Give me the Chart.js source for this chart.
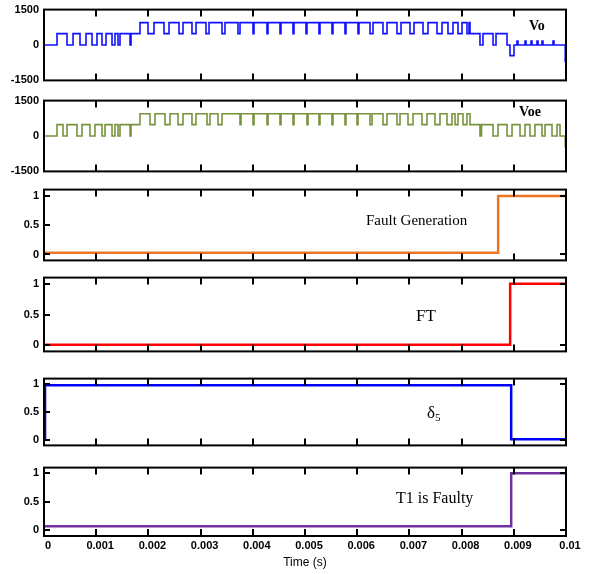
<!DOCTYPE html>
<html lang="en">
<head>
<meta charset="UTF-8">
<title>Fault detection waveforms</title>
<script src="https://cdn.jsdelivr.net/npm/chart.js"></script>
<style>
  body { margin: 0; background: #fff; }
  #wrap { position: relative; width: 590px; height: 574px; overflow: hidden; background: #fff; }
  .box { position: absolute; left: 0; width: 590px; }
  .note {
    position: absolute;
    font-family: "Liberation Serif", "Times New Roman", serif;
    color: #000;
    white-space: nowrap;
    line-height: 1;
  }
  .note sub { font-size: 0.65em; vertical-align: -0.25em; line-height: 0; }
</style>
</head>
<body>
<div id="wrap">
  <div class="box" id="bVo"><canvas id="cVo"></canvas></div>
  <div class="box" id="bVoe"><canvas id="cVoe"></canvas></div>
  <div class="box" id="bFault"><canvas id="cFault"></canvas></div>
  <div class="box" id="bFT"><canvas id="cFT"></canvas></div>
  <div class="box" id="bD5"><canvas id="cD5"></canvas></div>
  <div class="box" id="bT1"><canvas id="cT1"></canvas></div>

  <div class="note" style="left:529px; top:19px; font-size:14px; font-weight:bold;">Vo</div>
  <div class="note" style="left:519px; top:105px; font-size:14px; font-weight:bold;">Voe</div>
  <div class="note" style="left:366px; top:213px; font-size:15px;">Fault Generation</div>
  <div class="note" style="left:416px; top:307px; font-size:17px;">FT</div>
  <div class="note" style="left:427px; top:404px; font-size:17px;">δ<sub>5</sub></div>
  <div class="note" style="left:396px; top:490px; font-size:16px;">T1 is Faulty</div>
</div>
<script>
  // x axis (time, s)
  const xTicks = [0, 0.001, 0.002, 0.003, 0.004, 0.005, 0.006, 0.007, 0.008, 0.009, 0.01];
  const xTickLabels = ['0', '0.001', '0.002', '0.003', '0.004', '0.005', '0.006', '0.007', '0.008', '0.009', '0.01'];
  const voltTicks = [-1500, 0, 1500];
  const logicTicks = [0, 0.5, 1];

  // Vo : step changes (time, value)
  const voTime = [
    0, 0.000249, 0.000441, 0.000556, 0.000690, 0.000805, 0.000920, 0.001015, 0.001111, 0.001188,
    0.001303, 0.001360, 0.001418, 0.001456, 0.001648, 0.001667,
    0.001839, 0.001992, 0.002107, 0.002299, 0.002395, 0.002586, 0.002663, 0.002835, 0.002912,
    0.003103, 0.003161, 0.003410, 0.003467, 0.003716, 0.003755, 0.004004, 0.004023, 0.004272, 0.004291,
    0.004521, 0.004540, 0.004770, 0.004789, 0.005019, 0.005038, 0.005268, 0.005287, 0.005517, 0.005536,
    0.005766, 0.005785, 0.006015, 0.006034, 0.006245, 0.006303, 0.006494, 0.006571, 0.006762, 0.006839,
    0.007011, 0.007088, 0.007261, 0.007356, 0.007529, 0.007625, 0.007739, 0.007835, 0.007931, 0.008008,
    0.008103, 0.008142, 0.008161,
    0.008352, 0.008410, 0.008602, 0.008659, 0.008870, 0.008927, 0.009004,
    0.009061, 0.009080, 0.009215, 0.009234, 0.009330, 0.009349, 0.009444, 0.009464,
    0.009540, 0.009559, 0.009751, 0.009770, 0.009985, 0.010000
  ];
  const voVal = [
    0, 480, 0, 480, 0, 480, 0, 480, 0, 480,
    0, 480, 0, 480, 0, 480,
    950, 480, 950, 480, 950, 480, 950, 480, 950,
    480, 950, 480, 950, 480, 950, 480, 950, 480, 950,
    480, 950, 480, 950, 480, 950, 480, 950, 480, 950,
    480, 950, 480, 950, 480, 950, 480, 950, 480, 950,
    480, 950, 480, 950, 480, 950, 480, 950, 480, 950,
    480, 950, 480,
    0, 480, 0, 480, 0, -450, 0,
    170, 0, 170, 0, 170, 0, 170, 0,
    170, 0, 170, 0, -700, -700
  ];

  // Voe : step changes (time, value)
  const voeTime = [
    0, 0.000249, 0.000364, 0.000441, 0.000632, 0.000728, 0.000881, 0.000977, 0.001111, 0.001169,
    0.001303, 0.001360, 0.001418, 0.001456, 0.001648, 0.001667,
    0.001839, 0.002031, 0.002126, 0.002318, 0.002414, 0.002567, 0.002663, 0.002835, 0.002912,
    0.003123, 0.003180, 0.003333, 0.003410, 0.003755, 0.003774, 0.004004, 0.004023, 0.004272, 0.004291,
    0.004521, 0.004540, 0.004770, 0.004789, 0.005038, 0.005057, 0.005268, 0.005287, 0.005517, 0.005536,
    0.005766, 0.005785, 0.005996, 0.006015, 0.006245, 0.006284, 0.006494, 0.006571, 0.006762, 0.006820,
    0.006973, 0.007069, 0.007241, 0.007337, 0.007490, 0.007586, 0.007720, 0.007816, 0.007874, 0.007931,
    0.008027, 0.008103, 0.008161,
    0.008352, 0.008381, 0.008602, 0.008697, 0.008870, 0.008966, 0.009119, 0.009215,
    0.009310, 0.009406, 0.009540, 0.009598, 0.009732, 0.009828, 0.009885, 0.009985, 0.010000
  ];
  const voeVal = [
    0, 480, 0, 480, 0, 480, 0, 480, 0, 480,
    0, 480, 0, 480, 0, 480,
    940, 480, 940, 480, 940, 480, 940, 480, 940,
    480, 940, 480, 940, 480, 940, 480, 940, 480, 940,
    480, 940, 480, 940, 480, 940, 480, 940, 480, 940,
    480, 940, 480, 940, 480, 940, 480, 940, 480, 940,
    480, 940, 480, 940, 480, 940, 480, 940, 480, 940,
    480, 940, 480,
    0, 480, 0, 480, 0, 480, 0, 480,
    0, 480, 0, 480, 0, 480, 0, -450, -450
  ];

  // logic signals (last point closes the trace at 0.01 s)
  const faultTime = [0, 0.0087, 0.01];
  const faultVal = [0.03, 0.99, 0.99];
  const ftTime = [0, 0.00893, 0.01];
  const ftVal = [0.01, 1.0, 1.0];
  const d5Time = [0, 0.00002, 0.00895, 0.01];
  const d5Val = [0, 0.98, 0.01, 0.01];
  const t1Time = [0, 0.00895, 0.01];
  const t1Val = [0.07, 1.0, 1.0];

  Chart.defaults.font.family = '"Liberation Sans", Arial, sans-serif';
  Chart.defaults.color = '#000';

  // box round the plot with inward ticks
  const framePlugin = {
    id: 'frame',
    afterDatasetsDraw(chart, args, opts) {
      const { ctx, chartArea: a, scales } = chart;
      ctx.save();
      ctx.strokeStyle = '#000';
      ctx.lineWidth = 2;
      ctx.strokeRect(a.left, a.top, a.right - a.left, a.bottom - a.top);
      ctx.beginPath();
      xTicks.slice(1, -1).forEach(v => {
        const x = Math.round(scales.x.getPixelForValue(v));
        ctx.moveTo(x, a.top);
        ctx.lineTo(x, a.top + 7);
        ctx.moveTo(x, a.bottom);
        ctx.lineTo(x, a.bottom - 7);
      });
      if (opts.yMarks) {
        logicTicks.forEach((v, i) => {
          const y = Math.round(scales.y.getPixelForValue(v));
          ctx.moveTo(a.left, y);
          ctx.lineTo(a.left + 6, y);
          if (i !== 1) {
            ctx.moveTo(a.right, y);
            ctx.lineTo(a.right - 6, y);
          }
        });
      }
      ctx.stroke();
      ctx.restore();
    }
  };

  const panels = [
    { id: 'Vo', top: 8, bottom: 82, t: voTime, v: voVal, color: '#1010ff', lw: 1.6, min: -1500, max: 1500, ticks: voltTicks, yMarks: false },
    { id: 'Voe', top: 99, bottom: 173, t: voeTime, v: voeVal, color: '#77933c', lw: 1.6, min: -1500, max: 1500, ticks: voltTicks, yMarks: false },
    { id: 'Fault', top: 188, bottom: 262, t: faultTime, v: faultVal, color: '#ee7622', lw: 2.5, min: -0.1, max: 1.1, ticks: logicTicks, yMarks: true },
    { id: 'FT', top: 276, bottom: 353, t: ftTime, v: ftVal, color: '#ff0000', lw: 2.5, min: -0.1, max: 1.1, ticks: logicTicks, yMarks: true },
    { id: 'D5', top: 377, bottom: 447, t: d5Time, v: d5Val, color: '#0000ff', lw: 2.5, min: -0.1, max: 1.1, ticks: logicTicks, yMarks: true },
    { id: 'T1', top: 466, bottom: 536, t: t1Time, v: t1Val, color: '#7030a0', lw: 2.5, min: -0.1, max: 1.1, ticks: logicTicks, yMarks: true, last: true }
  ];

  const tickFont = { size: 11, weight: 'bold' };

  panels.forEach(p => {
    const box = document.getElementById('b' + p.id);
    const top = p.top - 10;
    const height = p.last ? 574 - top : p.bottom - p.top + 20;
    box.style.top = top + 'px';
    box.style.height = height + 'px';

    new Chart(document.getElementById('c' + p.id), {
      type: 'line',
      data: {
        datasets: [{
          data: p.t.map((t, i) => ({ x: t, y: p.v[i] })),
          borderColor: p.color,
          borderWidth: p.lw,
          stepped: true,
          pointRadius: 0,
          fill: false
        }]
      },
      options: {
        responsive: true,
        maintainAspectRatio: false,
        animation: false,
        events: [],
        layout: { padding: { left: 0, right: 24, top: 10, bottom: p.last ? 4 : 10 } },
        plugins: {
          legend: { display: false },
          tooltip: { enabled: false },
          frame: { yMarks: p.yMarks }
        },
        scales: {
          x: {
            type: 'linear',
            min: 0,
            max: 0.01,
            display: !!p.last,
            afterFit: s => { s.height = p.last ? 34 : 0; },
            afterBuildTicks: s => { s.ticks = xTicks.map(v => ({ value: v })); },
            grid: { display: false, drawTicks: false },
            border: { display: false },
            ticks: {
              callback: (v, i) => xTickLabels[i],
              autoSkip: false,
              maxRotation: 0,
              labelOffset: 4,
              padding: 3,
              font: tickFont
            },
            title: {
              display: true,
              text: 'Time (s)',
              font: { size: 12 },
              padding: { top: 0, bottom: 0 }
            }
          },
          y: {
            min: p.min,
            max: p.max,
            afterFit: s => { s.width = 44; },
            afterBuildTicks: s => { s.ticks = p.ticks.map(v => ({ value: v })); },
            grid: { display: false, drawTicks: false },
            border: { display: false },
            ticks: {
              callback: v => String(v),
              padding: 5,
              font: tickFont
            }
          }
        }
      },
      plugins: [framePlugin]
    });
  });
</script>
</body>
</html>
